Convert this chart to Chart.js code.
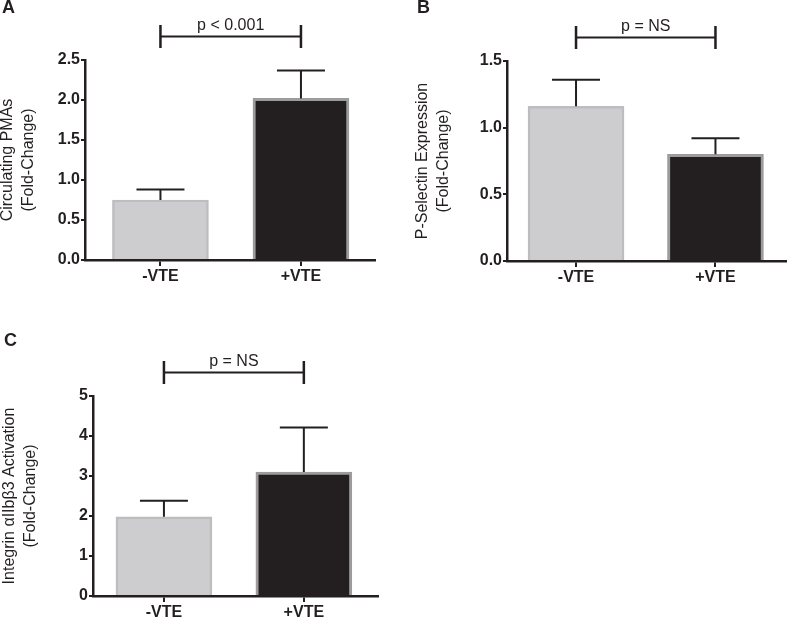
<!DOCTYPE html>
<html>
<head>
<meta charset="utf-8">
<script src="https://cdn.jsdelivr.net/npm/chart.js@4/dist/chart.umd.min.js"></script>
<style>
html,body{margin:0;padding:0;background:#fff;}
body{width:787px;height:618px;overflow:hidden;position:relative;}
canvas{position:absolute;display:block;}
</style>
</head>
<body>
<canvas id="cA" width="390" height="300" style="left:0;top:0"></canvas>
<canvas id="cB" width="397" height="300" style="left:390px;top:0"></canvas>
<canvas id="cC" width="390" height="318" style="left:0;top:300px"></canvas>
<script>
// ---- data ----
const categories = ['-VTE', '+VTE'];

const pmaMeans = [0.75, 2.02];
const pmaErrors = [0.13, 0.35];
const pmaTicks = [0, 0.5, 1.0, 1.5, 2.0, 2.5];

const pselMeans = [1.16, 0.80];
const pselErrors = [0.20, 0.12];
const pselTicks = [0, 0.5, 1.0, 1.5];

const integrinMeans = [1.98, 3.10];
const integrinErrors = [0.40, 1.11];
const integrinTicks = [0, 1, 2, 3, 4, 5];

const pValueLabels = ['p < 0.001', 'p = NS', 'p = NS'];
const panelLetters = ['A', 'B', 'C'];
const yTitles = [
  ['Circulating PMAs', '(Fold-Change)'],
  ['P-Selectin Expression', '(Fold-Change)'],
  ['Integrin \u03B1IIb\u03B23 Activation', '(Fold-Change)']
];

// ---- styling ----
const INK = '#231f20';
const FAM = "'Liberation Sans', Arial, Helvetica, sans-serif";
const barFill = ['#cdcdcf', '#231f20'];
const barEdge = ['#bdbdbf', '#9c9c9e'];

const annotPlugin = {
  id: 'annot',
  afterDatasetsDraw(chart, args, o) {
    const ctx = chart.ctx;
    const xs = chart.scales.x, ys = chart.scales.y;
    const data = chart.data.datasets[0].data;
    ctx.save();
    ctx.strokeStyle = INK;
    ctx.lineWidth = 2;
    // error bars (upper only)
    o.errors.forEach((e, i) => {
      const cx = xs.getPixelForValue(data[i].x);
      const y0 = ys.getPixelForValue(data[i].y);
      const y1 = ys.getPixelForValue(data[i].y + e);
      ctx.beginPath();
      ctx.moveTo(cx, y0); ctx.lineTo(cx, y1);
      ctx.moveTo(cx - 24, y1); ctx.lineTo(cx + 24, y1);
      ctx.stroke();
    });
    // significance bracket
    const x0 = xs.getPixelForValue(0), x1 = xs.getPixelForValue(1);
    const by = chart.chartArea.top - 23.5;
    ctx.beginPath();
    ctx.moveTo(x0, by); ctx.lineTo(x1, by);
    ctx.stroke();
    ctx.lineWidth = 2.5;
    ctx.beginPath();
    ctx.moveTo(x0, by - 11.5); ctx.lineTo(x0, by + 11.5);
    ctx.moveTo(x1, by - 11.5); ctx.lineTo(x1, by + 11.5);
    ctx.stroke();
    ctx.fillStyle = INK;
    ctx.font = '16px ' + FAM;
    ctx.textAlign = 'center';
    ctx.textBaseline = 'middle';
    ctx.fillText(o.pLabel, (x0 + x1) / 2, by - 11);
    // panel letter
    ctx.font = 'bold 18px ' + FAM;
    ctx.textAlign = 'left';
    ctx.fillText(o.letter, o.letterX, o.letterY);
    ctx.restore();
  }
};

function makePanel(id, means, errors, yTicks, decimals, k, L) {
  const dataPts = categories.map((c, i) => ({ x: i, y: means[i] }));
  new Chart(document.getElementById(id), {
    type: 'bar',
    data: {
      datasets: [{
        data: dataPts,
        backgroundColor: barFill,
        borderColor: barEdge,
        borderWidth: [2.5, 3],
        barThickness: 96
      }]
    },
    plugins: [annotPlugin],
    options: {
      responsive: false,
      animation: false,
      devicePixelRatio: 1,
      layout: { padding: { top: L.top, left: L.padLeft, right: L.padRight, bottom: 0 } },
      plugins: {
        legend: { display: false },
        tooltip: { enabled: false },
        annot: { errors: errors, pLabel: pValueLabels[k], letter: panelLetters[k], letterX: L.letterX, letterY: L.letterY }
      },
      scales: {
        x: {
          type: 'linear',
          min: L.xMin, max: L.xMax,
          offset: false,
          afterBuildTicks: s => { s.ticks = categories.map((c, i) => ({ value: i })); },
          afterFit: s => { s.height = L.xh; },
          ticks: {
            callback: v => categories[v],
            color: INK, font: { family: FAM, size: 16, weight: 'bold' },
            padding: 1, maxRotation: 0, autoSkip: false
          },
          grid: { offset: false, drawOnChartArea: false, drawTicks: true, tickLength: 6, color: INK, lineWidth: 2 },
          border: { display: true, color: INK, width: 2.5 }
        },
        y: {
          min: 0, max: yTicks[yTicks.length - 1],
          afterBuildTicks: s => { s.ticks = yTicks.map(v => ({ value: v })); },
          afterFit: s => { s.width = L.yw; },
          ticks: {
            callback: v => Number(v).toFixed(decimals),
            color: INK, font: { family: FAM, size: 16, weight: 'bold' },
            padding: 1
          },
          grid: { drawOnChartArea: false, drawTicks: true, tickLength: 4, color: INK, lineWidth: 2 },
          border: { display: true, color: INK, width: 2.5 },
          title: {
            display: true, text: yTitles[k], color: INK,
            font: { family: FAM, size: 16, lineHeight: 1.3125 },
            padding: { top: L.titlePad, bottom: 0 }
          }
        }
      }
    }
  });
}

makePanel('cA', pmaMeans, pmaErrors, pmaTicks, 1, 0,
  { top: 60, padLeft: 0, padRight: 15, yw: 85, xh: 40, xMin: -0.537, xMax: 1.527, titlePad: -3, letterX: 2, letterY: 8 });
makePanel('cB', pselMeans, pselErrors, pselTicks, 1, 1,
  { top: 61, padLeft: 22, padRight: 0, yw: 95, xh: 39, xMin: -0.495, xMax: 1.513, titlePad: 0, letterX: 27, letterY: 8 });
makePanel('cC', integrinMeans, integrinErrors, integrinTicks, 0, 2,
  { top: 96, padLeft: 0, padRight: 12, yw: 93, xh: 22, xMin: -0.507, xMax: 1.53, titlePad: -0.5, letterX: 4, letterY: 41.5 });
</script>
</body>
</html>
